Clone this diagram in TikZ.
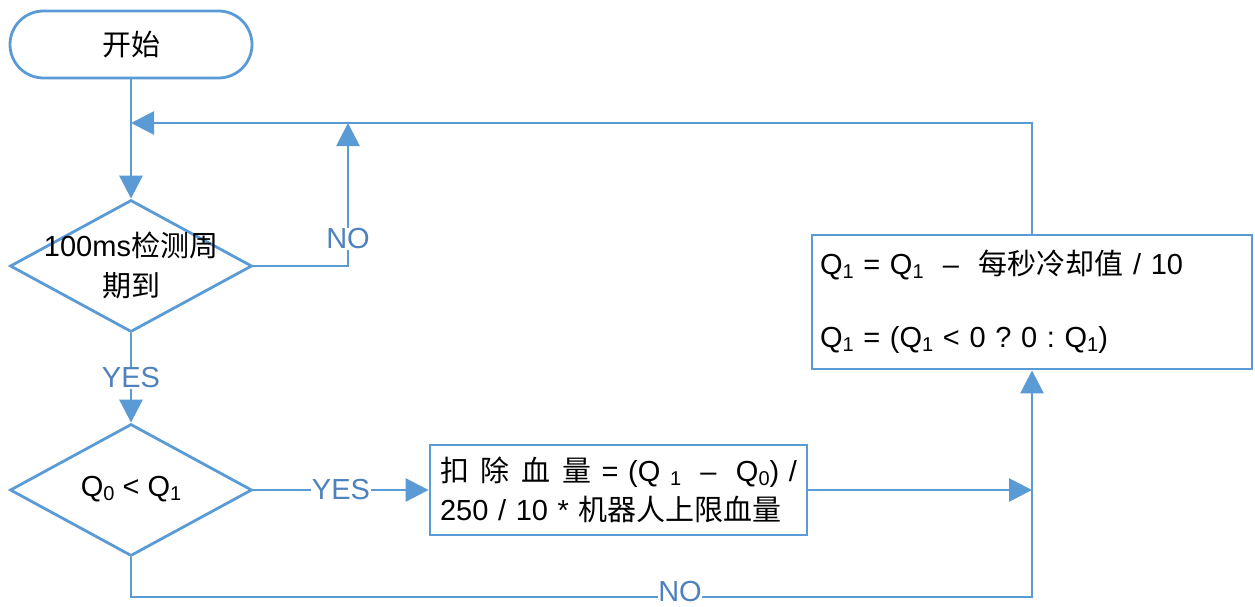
\documentclass[tikz,border=0pt]{standalone}
\usepackage{fontspec}
\setmainfont{Liberation Sans}
\newfontfamily\cjk{Noto Sans CJK SC}
\usetikzlibrary{shapes.geometric,arrows.meta}
\definecolor{lineblue}{RGB}{91,155,213}
\definecolor{labelblue}{RGB}{79,129,189}
\newcommand\sbs[1]{\raisebox{-4pt}{\fontsize{20}{20}\selectfont #1}}
\frenchspacing
\begin{document}
\begin{tikzpicture}[x=1pt,y=-1pt,
  line/.style={draw=lineblue,line width=2.8pt},
  arr/.style={draw=lineblue,line width=2.8pt,-{Triangle[length=23pt,width=23pt]}},
  txt/.style={font=\fontsize{29}{29}\selectfont,text=black},
  lab/.style={fill=white,inner sep=1pt,text=labelblue,font=\fontsize{29}{29}\selectfont},
  dia/.style={line,diamond,minimum width=242pt,minimum height=132pt,inner sep=0pt}
]
\useasboundingbox (0,0) rectangle (1255,607);
% nodes
\node[line,rounded corners=33.5pt,minimum width=242pt,minimum height=67pt,inner sep=0pt,txt] (start) at (131,44.5) {{\cjk 开始}};
\node[dia] (d1) at (131,266) {};
\node[txt,align=center,font=\fontsize{29}{40}\selectfont] (d1t) at (131,265) {100ms{\cjk 检测周}\\{\cjk 期到}};
\node[dia] (d2) at (131,490) {};
\node[txt] (d2t) at (131,489) {Q\sbs{0} < Q\sbs{1}};
\node[line,minimum width=377pt,minimum height=90pt,inner sep=0pt,text width=357pt,align=left,font=\fontsize{29}{39}\selectfont] (b1) at (618.5,490)
  {\makebox[357pt][s]{{\cjk 扣}\hspace{2pt plus 1fil}{\cjk 除}\hspace{2pt plus 1fil}{\cjk 血}\hspace{2pt plus 1fil}{\cjk 量} = (Q \sbs{1} \ – \ Q\sbs{0}) /}\\250 / 10 * {\cjk 机器人上限血量}};
\node[line,minimum width=440pt,minimum height=134pt,inner sep=0pt,text width=424pt,align=left,font=\fontsize{29}{73}\selectfont] (b2) at (1032,302)
  {Q\sbs{1} = Q\sbs{1} \ – \ {\cjk 每秒冷却值} / 10\\Q\sbs{1} = (Q\sbs{1} < 0 ? 0 : Q\sbs{1})};
% junction coordinates
\coordinate (j1) at (131,123);
\coordinate (j2) at (348,123);
\coordinate (j3) at (1032,490);
\coordinate (j4) at (1032,597);
% connectors
\draw[arr] (start.south) -- (d1.north);
\draw[arr] (b2.north) |- (j1);
\draw[arr] (d1.east) -| (j2);
\node[lab] (no1) at (348,239) {NO};
\draw[arr] (d1.south) -- node[lab] (yes1) {YES} (d2.north);
\draw[arr] (d2.east) -- node[lab] (yes2) {YES} (b1.west);
\draw[arr] (b1.east) -- (j3);
\draw[arr] (d2.south) |- (j4) -- (b2.south);
\node[lab,inner sep=0pt] (no2) at (680,592) {NO};
\end{tikzpicture}
\end{document}
